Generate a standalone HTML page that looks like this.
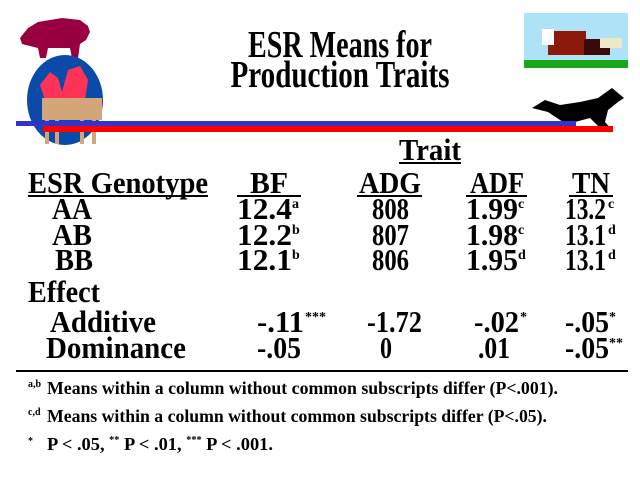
<!DOCTYPE html>
<html><head><meta charset="utf-8"><style>
html,body{margin:0;padding:0;background:#fff;}
svg{display:block;}
text{font-family:"Liberation Serif",serif;font-weight:bold;fill:#000;}
</style></head><body>
<svg width="640" height="480" viewBox="0 0 640 480" xmlns="http://www.w3.org/2000/svg">
<rect width="640" height="480" fill="#fff"/>
<!-- pig -->
<path d="M20 38 L28 28 L38 22 L62 18 L80 20 L88 26 L90 32 L86 40 L80 44 L78 58 L72 58 L70 48 L48 48 L46 58 L40 58 L38 48 L30 46 L22 44 Z" fill="#990040"/>
<!-- circle -->
<ellipse cx="65" cy="100" rx="38" ry="45" fill="#0a4aa8"/>
<path d="M40 85 L50 72 L58 78 L62 92 L68 70 L80 66 L88 80 L85 100 L45 100 Z" fill="#ff3355"/>
<rect x="42" y="98" width="60" height="22" fill="#d2a679"/>
<rect x="45" y="118" width="4" height="26" fill="#d2a679"/><rect x="55" y="118" width="4" height="26" fill="#d2a679"/>
<rect x="80" y="118" width="4" height="26" fill="#d2a679"/><rect x="92" y="118" width="4" height="26" fill="#d2a679"/>
<!-- cattle picture -->
<rect x="524" y="13" width="104" height="54" fill="#aee3f7"/>
<rect x="524" y="60" width="104" height="8" fill="#1aa81a"/>
<rect x="548" y="31" width="38" height="24" fill="#8b1a0a"/>
<rect x="584" y="39" width="26" height="16" fill="#3a0a0a"/>
<rect x="600" y="38" width="22" height="10" fill="#eee8c8"/>
<rect x="542" y="29" width="12" height="16" fill="#fff"/>
<!-- horse -->
<path d="M532 108 L545 100 L560 105 L580 102 L598 98 L612 88 L624 98 L618 102 L608 110 L605 122 L612 130 L600 128 L590 118 L575 122 L572 128 L560 120 L548 112 Z" fill="#000"/>
<!-- lines -->
<rect x="16" y="121" width="560" height="5" fill="#3333cc"/>
<rect x="43" y="126" width="570" height="6" fill="#ff0000"/>
<!-- title -->
<text x="340" y="57" font-size="38" text-anchor="middle" textLength="184" lengthAdjust="spacingAndGlyphs">ESR Means for</text>
<text x="340" y="87" font-size="38" text-anchor="middle" textLength="219" lengthAdjust="spacingAndGlyphs">Production Traits</text>
<!-- table -->
<g font-size="31">
<text x="399" y="160" textLength="62" lengthAdjust="spacingAndGlyphs">Trait</text>
<rect x="399" y="162" width="62" height="2" fill="#000"/>
<text x="28" y="193" textLength="180" lengthAdjust="spacingAndGlyphs">ESR Genotype</text>
<rect x="28" y="195" width="180" height="2" fill="#000"/>
<text x="250" y="193" textLength="38" lengthAdjust="spacingAndGlyphs">BF</text>
<rect x="237" y="195" width="64" height="2" fill="#000"/>
<text x="359" y="193" textLength="62" lengthAdjust="spacingAndGlyphs">ADG</text>
<rect x="357" y="195" width="65" height="2" fill="#000"/>
<text x="470" y="193" textLength="54" lengthAdjust="spacingAndGlyphs">ADF</text>
<rect x="466" y="195" width="61" height="2" fill="#000"/>
<text x="572" y="193" textLength="38" lengthAdjust="spacingAndGlyphs">TN</text>
<rect x="569" y="195" width="44" height="2" fill="#000"/>

<text x="52" y="219" textLength="40" lengthAdjust="spacingAndGlyphs">AA</text>
<text x="237" y="219" textLength="55" lengthAdjust="spacingAndGlyphs">12.4</text><text x="292" y="208" font-size="14">a</text>
<text x="372" y="219" textLength="37" lengthAdjust="spacingAndGlyphs">808</text>
<text x="466" y="219" textLength="52" lengthAdjust="spacingAndGlyphs">1.99</text><text x="518" y="208" font-size="14">c</text>
<text x="565" y="219" textLength="41" lengthAdjust="spacingAndGlyphs">13.2</text><text x="608" y="208" font-size="14">c</text>

<text x="52" y="245" textLength="40" lengthAdjust="spacingAndGlyphs">AB</text>
<text x="237" y="245" textLength="55" lengthAdjust="spacingAndGlyphs">12.2</text><text x="292" y="234" font-size="14">b</text>
<text x="372" y="245" textLength="37" lengthAdjust="spacingAndGlyphs">807</text>
<text x="466" y="245" textLength="52" lengthAdjust="spacingAndGlyphs">1.98</text><text x="518" y="234" font-size="14">c</text>
<text x="565" y="245" textLength="41" lengthAdjust="spacingAndGlyphs">13.1</text><text x="608" y="234" font-size="14">d</text>

<text x="55" y="270" textLength="38" lengthAdjust="spacingAndGlyphs">BB</text>
<text x="237" y="270" textLength="55" lengthAdjust="spacingAndGlyphs">12.1</text><text x="292" y="259" font-size="14">b</text>
<text x="372" y="270" textLength="37" lengthAdjust="spacingAndGlyphs">806</text>
<text x="466" y="270" textLength="52" lengthAdjust="spacingAndGlyphs">1.95</text><text x="518" y="259" font-size="14">d</text>
<text x="565" y="270" textLength="41" lengthAdjust="spacingAndGlyphs">13.1</text><text x="608" y="259" font-size="14">d</text>

<text x="28" y="302" textLength="72" lengthAdjust="spacingAndGlyphs">Effect</text>
<text x="50" y="332" textLength="106" lengthAdjust="spacingAndGlyphs">Additive</text>
<text x="257" y="332" textLength="47" lengthAdjust="spacingAndGlyphs">-.11</text><text x="305" y="321" font-size="14">***</text>
<text x="367" y="332" textLength="55" lengthAdjust="spacingAndGlyphs">-1.72</text>
<text x="474" y="332" textLength="45" lengthAdjust="spacingAndGlyphs">-.02</text><text x="520" y="321" font-size="14">*</text>
<text x="565" y="332" textLength="44" lengthAdjust="spacingAndGlyphs">-.05</text><text x="609" y="321" font-size="14">*</text>

<text x="46" y="358" textLength="140" lengthAdjust="spacingAndGlyphs">Dominance</text>
<text x="257" y="358" textLength="44" lengthAdjust="spacingAndGlyphs">-.05</text>
<text x="380" y="358" textLength="12" lengthAdjust="spacingAndGlyphs">0</text>
<text x="478" y="358" textLength="32" lengthAdjust="spacingAndGlyphs">.01</text>
<text x="565" y="358" textLength="44" lengthAdjust="spacingAndGlyphs">-.05</text><text x="609" y="347" font-size="14">**</text>
</g>
<rect x="16" y="370" width="612" height="2" fill="#000"/>
<g font-size="18">
<text x="28" y="387" font-size="10">a,b</text>
<text x="47" y="394" textLength="511" lengthAdjust="spacingAndGlyphs">Means within a column without common subscripts differ (P&lt;.001).</text>
<text x="28" y="415" font-size="10">c,d</text>
<text x="47" y="422" textLength="500" lengthAdjust="spacingAndGlyphs">Means within a column without common subscripts differ (P&lt;.05).</text>
<text x="28" y="444" font-size="10">*</text>
<text x="47" y="450" textLength="226" lengthAdjust="spacingAndGlyphs">P &lt; .05, <tspan font-size="10" dy="-7">**</tspan><tspan dy="7"> P &lt; .01, </tspan><tspan font-size="10" dy="-7">***</tspan><tspan dy="7"> P &lt; .001.</tspan></text>
</g>
</svg>
</body></html>
